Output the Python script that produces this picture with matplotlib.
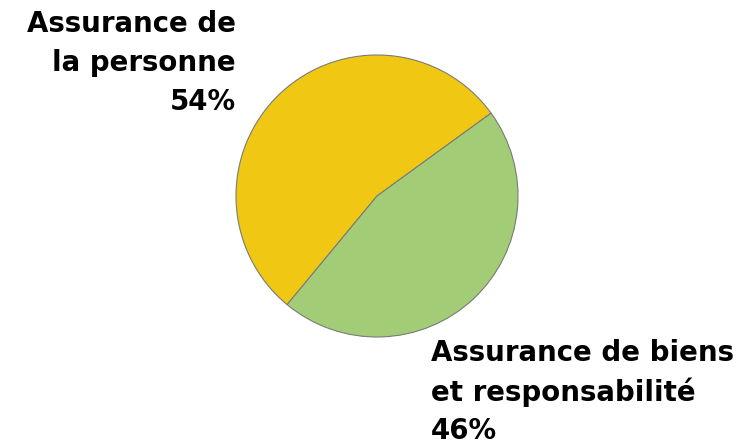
import matplotlib
matplotlib.use("Agg")
import matplotlib.pyplot as plt

labels = ["Assurance de\nla personne\n54%", "Assurance de biens\net responsabilité\n46%"]
values = [54, 46]
colors = ["#F0C814", "#A2CD76"]

W, H = 756, 444
fig = plt.figure(figsize=(W / 100, H / 100), dpi=100)
cx, cy, r = 377, 196, 141
ax = fig.add_axes([(cx - r) / W, (H - cy - r) / H, 2 * r / W, 2 * r / H])
ax.pie(values, colors=colors, startangle=36, counterclock=True,
       wedgeprops=dict(edgecolor="#7a7a7a", linewidth=0.8), radius=1)
ax.set_xlim(-1, 1)
ax.set_ylim(-1, 1)
ax.set_aspect("equal")
ax.axis("off")

fs = 19.9
fig.text(236 / W, 1 - 10 / H, labels[0], ha="right", va="top", fontsize=fs,
         fontweight="bold", linespacing=1.5, family="DejaVu Sans")
fig.text(431 / W, 1 - 339 / H, labels[1], ha="left", va="top", fontsize=fs,
         fontweight="bold", linespacing=1.46, family="DejaVu Sans")

fig.savefig("out.png", dpi=100, facecolor="white")
